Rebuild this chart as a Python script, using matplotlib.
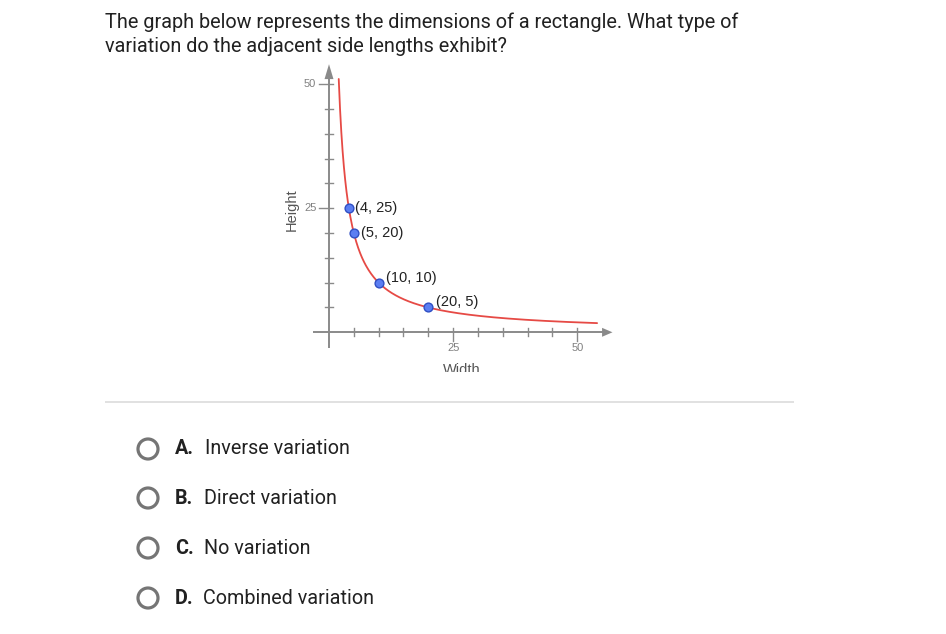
import numpy as np
import matplotlib
matplotlib.use("Agg")
import matplotlib.pyplot as plt
from matplotlib.patches import Circle, Polygon

# ---- data ----
question_lines = ["The graph below represents the dimensions of a rectangle. What type of",
                  "variation do the adjacent side lengths exhibit?"]
option_letters = ["A.", "B.", "C.", "D."]
option_texts = ["Inverse variation", "Direct variation", "No variation", "Combined variation"]

point_width = [4, 5, 10, 20]
point_height = [25, 20, 10, 5]
point_labels = ["(4, 25)", "(5, 20)", "(10, 10)", "(20, 5)"]
AREA = 100  # width * height of the rectangle
curve_width = np.linspace(1.96, 54, 400)
curve_height = AREA / curve_width

x_ticks = [5, 10, 15, 20, 25, 30, 35, 40, 45, 50]
y_ticks = [5, 10, 15, 20, 25, 30, 35, 40, 45, 50]
x_ticklabels = {25: "25", 50: "50"}
y_ticklabels = {25: "25", 50: "50"}

W, H = 946, 634
fig = plt.figure(figsize=(W / 100, H / 100), dpi=100)
fig.patch.set_facecolor("white")

# background axes in pixel coordinates
bg = fig.add_axes([0, 0, 1, 1])
bg.set_xlim(0, W)
bg.set_ylim(H, 0)
bg.axis("off")

TXT = "#212121"
bg.text(105, 22, question_lines[0], fontsize=14.3, family="Roboto", color=TXT, va="center", ha="left")
bg.text(105, 46, question_lines[1], fontsize=14.3, family="Roboto", color=TXT, va="center", ha="left")

bg.plot([105, 794], [402, 402], color="#dcdcdc", lw=1.2, solid_capstyle="butt")

opt_y = [449, 498, 548, 598]
opt_x = [205, 204, 204, 203]
for yy, xx, let, txt in zip(opt_y, opt_x, option_letters, option_texts):
    bg.add_patch(Circle((148, yy), 10, fill=False, edgecolor="#757575", lw=2.3))
    bg.text(175, yy, let, fontsize=14.2, family="Roboto", weight="bold", color=TXT, va="center", ha="left")
    bg.text(xx, yy, txt, fontsize=14.2, family="Roboto", color=TXT, va="center", ha="left")

# graph axes: mapping 4.965 px per unit, origin at pixel (329, 332.3)
S = 4.965
ox, oy = 329, 332.3
left_px, right_px, top_px, bot_px = 280, 620, 64, 372
ax = fig.add_axes([left_px / W, (H - bot_px) / H, (right_px - left_px) / W, (bot_px - top_px) / H])
ax.set_xlim((left_px - ox) / S, (right_px - ox) / S)
ax.set_ylim((oy - bot_px) / S, (oy - top_px) / S)
ax.axis("off")

AX = "#8a8a8a"
# axes lines
ax.plot([-3.2, 55.2], [0, 0], color=AX, lw=1.4, solid_capstyle="butt")
ax.plot([0, 0], [-3.2, 51.2], color=AX, lw=1.4, solid_capstyle="butt")
ax.add_patch(Polygon([[55.0, -0.9], [57.1, 0], [55.0, 0.9]], closed=True, color=AX, lw=0))
ax.add_patch(Polygon([[-0.9, 51.0], [0, 54.0], [0.9, 51.0]], closed=True, color=AX, lw=0))

for t in x_ticks:
    lo = -1.8 if t in x_ticklabels else -0.8
    ax.plot([t, t], [lo, 0.8], color=AX, lw=1.0)
for t in y_ticks:
    lo = -2.0 if t in y_ticklabels else -0.8
    ax.plot([lo, 0.8], [t, t], color=AX, lw=1.0)
for t, s in x_ticklabels.items():
    ax.text(t, -3.1, s, fontsize=8, family="Liberation Sans", color="#808080", ha="center", va="center")
for t, s in y_ticklabels.items():
    ax.text(-3.8, t, s, fontsize=8, family="Liberation Sans", color="#808080", ha="center", va="center")

ax.text(-7.5, 24.6, "Height", fontsize=10.5, family="Liberation Sans", color="#555555",
        rotation=90, ha="center", va="center")
ax.text(26.8, -7.6, "Width", fontsize=10.5, family="Liberation Sans", color="#555555",
        ha="center", va="center", clip_on=True)

ax.plot(curve_width, curve_height, color="#e64a45", lw=1.3, solid_capstyle="round")
ax.scatter(point_width, point_height, s=40, facecolor="#5b7ef2", edgecolor="#2f4fc4", lw=1.0, zorder=5)

offsets = [(4.5, 0), (5, 0), (5.5, 3.5), (5.5, 4.2)]
for xw, yh, lab, off in zip(point_width, point_height, point_labels, offsets):
    ax.annotate(lab, (xw, yh), xytext=off, textcoords="offset points", fontsize=10.5,
                family="Liberation Sans", color="#222222", ha="left", va="center")

fig.savefig("out.png", dpi=100, facecolor="white")
